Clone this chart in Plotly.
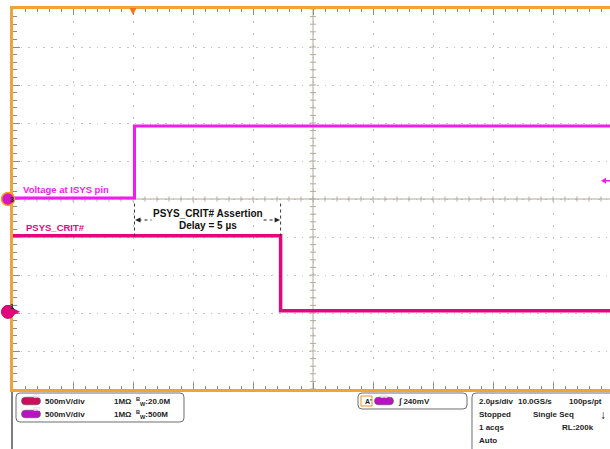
import numpy as np
import plotly.graph_objects as go

# ---------------- data ----------------
isys_time_us = [-4.0, 0.05, 15.9]          # C3: voltage at ISYS pin
isys_volts = [0.013, 0.962, 0.962]
psys_time_us = [-4.0, 4.92, 15.9]          # C1: PSYS_CRIT#
psys_volts = [1.0, 0.013, 0.013]
trigger_time_us = 0.0
trigger_level_v = 0.24
delay_label = ["PSYS_CRIT# Assertion", "Delay = 5 µs"]
ch_rows = [("C1", "500mV/div", "1MΩ", "20.0M"), ("C3", "500mV/div", "1MΩ", "500M")]
timebase_rows = [["2.0µs/div", "10.0GS/s", "100ps/pt"],
                 ["Stopped", "Single Seq", "↓"],
                 ["1 acqs", "RL:200k"],
                 ["Auto"]]

# ---------------- layout constants ----------------
W, H = 610, 449
L, T, B = 13, 9, 60
PW, PH = W - L, H - T - B           # 597 x 380
US_PER_DIV, V_PER_DIV = 2.0, 0.5
PX_PER_DIV_X, PX_PER_DIV_Y = 60.0, 38.0
X0 = -4.0
X1 = X0 + US_PER_DIV * PW / PX_PER_DIV_X
C3_GROUND_DIV = 0.0
C1_GROUND_DIV = -2.97
c3_range = [(-5 - C3_GROUND_DIV) * V_PER_DIV, (5 - C3_GROUND_DIV) * V_PER_DIV]
c1_range = [(-5 - C1_GROUND_DIV) * V_PER_DIV, (5 - C1_GROUND_DIV) * V_PER_DIV]

ORANGE = "#f2a23a"
MAGENTA = "#f21cf0"
CRIMSON = "#e5067e"
GRID = "#c4c4c4"
TICK = "#8c8c8c"
CROSS = "#b3ab9a"
FONT = "Liberation Sans, Arial, sans-serif"


def xp(px):
    return (px - L) / PW


def yp(py):
    return (H - B - py) / PH


def px_of_t(t):
    return L + (t - X0) / US_PER_DIV * PX_PER_DIV_X


def py_of_c3(v):
    return H - B - (v - c3_range[0]) / (c3_range[1] - c3_range[0]) * PH


def P(x, y):
    return f"{xp(x):.5f},{yp(y):.5f}"


def rrect(x0, y0, x1, y1, r):
    return (f"M{P(x0 + r, y0)} L{P(x1 - r, y0)} Q{P(x1, y0)} {P(x1, y0 + r)} "
            f"L{P(x1, y1 - r)} Q{P(x1, y1)} {P(x1 - r, y1)} L{P(x0 + r, y1)} "
            f"Q{P(x0, y1)} {P(x0, y1 - r)} L{P(x0, y0 + r)} Q{P(x0, y0)} {P(x0 + r, y0)} Z")


fig = go.Figure()
fig.add_trace(go.Scatter(x=isys_time_us, y=isys_volts, mode="lines", line_shape="hv",
                         line=dict(color=MAGENTA, width=3), yaxis="y", showlegend=False,
                         hoverinfo="skip"))
fig.add_trace(go.Scatter(x=psys_time_us, y=psys_volts, mode="lines", line_shape="hv",
                         line=dict(color=CRIMSON, width=3.5), yaxis="y2", showlegend=False,
                         hoverinfo="skip"))

shapes = []
ann = []

# centre cross of the graticule with its ticks
xc = X0 + 5 * US_PER_DIV
shapes.append(dict(type="line", xref="x", yref="y", x0=xc, x1=xc, y0=c3_range[0], y1=c3_range[1],
                   line=dict(color=CROSS, width=1), layer="between"))
shapes.append(dict(type="line", xref="x", yref="y", x0=X0, x1=X1, y0=0, y1=0,
                   line=dict(color=CROSS, width=1), layer="between"))
hx = 0.033
tick_path = " ".join(f"M{t:.3f},{-hx} L{t:.3f},{hx}" for t in np.arange(X0, X1, US_PER_DIV / 5))
shapes.append(dict(type="path", xref="x", yref="y", path=tick_path,
                   line=dict(color=CROSS, width=1), layer="between"))
hy = 0.1
tick_path = " ".join(f"M{xc - hy},{v:.3f} L{xc + hy},{v:.3f}"
                     for v in np.arange(c3_range[0], c3_range[1] + 1e-6, V_PER_DIV / 5))
shapes.append(dict(type="path", xref="x", yref="y", path=tick_path,
                   line=dict(color=CROSS, width=1), layer="between"))

# delay markers
t_a, t_b = isys_time_us[1], psys_time_us[1]
for t in (t_a, t_b):
    shapes.append(dict(type="line", xref="x", yref="y", x0=t, x1=t, y0=-0.06, y1=-0.49,
                       line=dict(color="#333333", width=1, dash="dot")))
y_arrow_px = 220
xa, xb = px_of_t(t_a), px_of_t(t_b)
shapes.append(dict(type="line", xref="paper", yref="paper", x0=xp(xa + 4), x1=xp(xa + 17),
                   y0=yp(y_arrow_px), y1=yp(y_arrow_px), line=dict(color="#222222", width=1, dash="dot")))
shapes.append(dict(type="line", xref="paper", yref="paper", x0=xp(xb - 17), x1=xp(xb - 4),
                   y0=yp(y_arrow_px), y1=yp(y_arrow_px), line=dict(color="#222222", width=1, dash="dot")))
shapes.append(dict(type="path", xref="paper", yref="paper",
                   path=f"M{P(xa + 0.5, y_arrow_px)} L{P(xa + 6, y_arrow_px - 2.5)} L{P(xa + 6, y_arrow_px + 2.5)} Z",
                   fillcolor="#222222", line=dict(width=0)))
shapes.append(dict(type="path", xref="paper", yref="paper",
                   path=f"M{P(xb - 0.5, y_arrow_px)} L{P(xb - 6, y_arrow_px - 2.5)} L{P(xb - 6, y_arrow_px + 2.5)} Z",
                   fillcolor="#222222", line=dict(width=0)))
tm = (t_a + t_b) / 2
ann.append(dict(x=tm, y=yp(213), xref="x", yref="paper", text=f"<b>{delay_label[0]}</b>", showarrow=False,
                font=dict(size=10, color="#111111", family=FONT), xanchor="center", yanchor="middle"))
ann.append(dict(x=tm, y=yp(225), xref="x", yref="paper", text=f"<b>{delay_label[1]}</b>", showarrow=False,
                font=dict(size=10, color="#111111", family=FONT), xanchor="center", yanchor="middle"))

# channel labels
ann.append(dict(x=xp(21), y=yp(189), xref="paper", yref="paper", text="<b>Voltage at ISYS pin</b>",
                showarrow=False, xanchor="left", yanchor="middle",
                font=dict(size=9.5, color=MAGENTA, family=FONT)))
ann.append(dict(x=xp(24), y=yp(227), xref="paper", yref="paper", text="<b>PSYS_CRIT#</b>",
                showarrow=False, xanchor="left", yanchor="middle",
                font=dict(size=9.5, color=CRIMSON, family=FONT)))

# trigger position marker (top) and trigger level arrow (right)
tx = px_of_t(trigger_time_us)
shapes.append(dict(type="path", xref="paper", yref="paper",
                   path=f"M{P(tx - 3.5, 8)} L{P(tx + 3.5, 8)} L{P(tx, 15)} Z",
                   fillcolor="#f07818", line=dict(width=0)))
ty = py_of_c3(trigger_level_v)
shapes.append(dict(type="path", xref="paper", yref="paper",
                   path=f"M{P(601, ty)} L{P(606, ty - 3)} L{P(606, ty + 3)} Z",
                   fillcolor=MAGENTA, line=dict(width=0)))
shapes.append(dict(type="line", xref="paper", yref="paper", x0=xp(605), x1=xp(611), y0=yp(ty), y1=yp(ty),
                   line=dict(color=MAGENTA, width=1.5)))

# ground markers on the left
g3 = py_of_c3(C3_GROUND_DIV * V_PER_DIV)
g1 = H - B - (C1_GROUND_DIV + 5) * PX_PER_DIV_Y
shapes.append(dict(type="path", xref="paper", yref="paper",
                   path=f"M{P(14, g1 - 3)} L{P(20, g1)} L{P(14, g1 + 3)} Z",
                   fillcolor=CRIMSON, line=dict(width=0)))
shapes.append(dict(type="line", xref="paper", yref="paper", x0=xp(10), x1=xp(16), y0=yp(g1), y1=yp(g1),
                   line=dict(color=CRIMSON, width=1.5)))
shapes.append(dict(type="circle", xref="paper", yref="paper", x0=xp(1.5), x1=xp(14.5),
                   y0=yp(g3 + 6.5), y1=yp(g3 - 6.5), fillcolor="#d417c8",
                   line=dict(color="#f5a020", width=1.5)))
shapes.append(dict(type="circle", xref="paper", yref="paper", x0=xp(1.5), x1=xp(14.5),
                   y0=yp(g1 + 6.5), y1=yp(g1 - 6.5), fillcolor=CRIMSON,
                   line=dict(color="#c0005e", width=1)))
ann.append(dict(x=xp(8), y=yp(g3), xref="paper", yref="paper", text="<b>3</b>", showarrow=False,
                font=dict(size=7, color="#222222", family=FONT)))
ann.append(dict(x=xp(8), y=yp(g1), xref="paper", yref="paper", text="<b>1</b>", showarrow=False,
                font=dict(size=7, color="#222222", family=FONT)))

# ---------------- readout panel below the graticule ----------------
shapes.append(dict(type="line", xref="paper", yref="paper", x0=xp(12), x1=xp(12), y0=yp(392), y1=yp(449),
                   line=dict(color="#555555", width=1.5)))
for (x0, y0, x1, y1) in [(16, 393, 184, 422), (358, 393, 467, 409), (472, 393, 614, 455)]:
    shapes.append(dict(type="path", xref="paper", yref="paper", path=rrect(x0, y0, x1, y1, 4),
                       fillcolor="white", line=dict(color="#6e6e6e", width=1)))


def pill(cx, cy, label, color):
    shapes.append(dict(type="path", xref="paper", yref="paper",
                       path=rrect(cx - 9.5, cy - 3.8, cx + 9.5, cy + 3.8, 3.8),
                       fillcolor=color, line=dict(color="#555555", width=0.6)))
    ann.append(dict(x=xp(cx), y=yp(cy), xref="paper", yref="paper", text=f"<b>{label}</b>",
                    showarrow=False, font=dict(size=6, color="#ffd0ea", family=FONT)))


def txt(x, y, s, size=8, color="#1e1e1e"):
    ann.append(dict(x=xp(x), y=yp(y), xref="paper", yref="paper", text=f"<b>{s}</b>",
                    showarrow=False, xanchor="left", yanchor="middle",
                    font=dict(size=size, color=color, family=FONT)))


pill_colors = {"C1": "#c8105c", "C3": "#b812c4"}
for i, (ch, vdiv, imp, bw) in enumerate(ch_rows):
    yy = 401 + 13 * i
    pill(31, yy, ch, pill_colors[ch])
    txt(43, yy, vdiv)
    txt(112, yy, f"{imp}  <sup>B</sup><sub>W</sub>:{bw}")

# trigger readout
shapes.append(dict(type="rect", xref="paper", yref="paper", x0=xp(361), x1=xp(372), y0=yp(406), y1=yp(396),
                   fillcolor="white", line=dict(color="#f09030", width=1)))
txt(362.5, 401, "A'", size=7)
pill(384, 401, "C3", pill_colors["C3"])
txt(396, 401, f"∫ {int(round(trigger_level_v * 1000))}mV")

# timebase readout
col_x = [[477, 516, 567], [477, 531, 598], [477, 560], [477]]
for r, (row, xs) in enumerate(zip(timebase_rows, col_x)):
    yy = 401 + 13.3 * r
    for s, x in zip(row, xs):
        if s == "↓":
            txt(x, yy + 1, s, size=12, color="#111111")
        else:
            txt(x, yy, s)

fig.update_layout(
    width=W, height=H, autosize=False,
    margin=dict(l=L, r=0, t=T, b=B, pad=0),
    paper_bgcolor="white", plot_bgcolor="white",
    showlegend=False,
    xaxis=dict(range=[X0, X1], showline=True, linecolor=ORANGE, linewidth=3, mirror="ticks",
               ticks="inside", ticklen=6, tickwidth=1, tickcolor=TICK, tick0=X0, dtick=US_PER_DIV,
               minor=dict(ticks="inside", ticklen=3, tickcolor=TICK, dtick=US_PER_DIV / 5, showgrid=False),
               showticklabels=False, showgrid=True, gridcolor=GRID, gridwidth=1, griddash="1.5px,10.5px",
               zeroline=False, fixedrange=True),
    yaxis=dict(range=c3_range, showline=True, linecolor=ORANGE, linewidth=3, mirror=False,
               ticks="inside", ticklen=7, tickwidth=1, tickcolor=TICK, tick0=0, dtick=V_PER_DIV,
               minor=dict(ticks="inside", ticklen=4, tickcolor=TICK, dtick=V_PER_DIV / 5, showgrid=False),
               showticklabels=False, showgrid=True, gridcolor=GRID, gridwidth=1, griddash="1.5px,6.1px",
               zeroline=False, fixedrange=True),
    yaxis2=dict(range=c1_range, overlaying="y", visible=False, fixedrange=True),
    shapes=shapes,
    annotations=ann,
)

fig.write_html("out.html", config={"displayModeBar": False},
               post_script="document.body.style.margin='0';document.body.style.overflow='hidden';")
